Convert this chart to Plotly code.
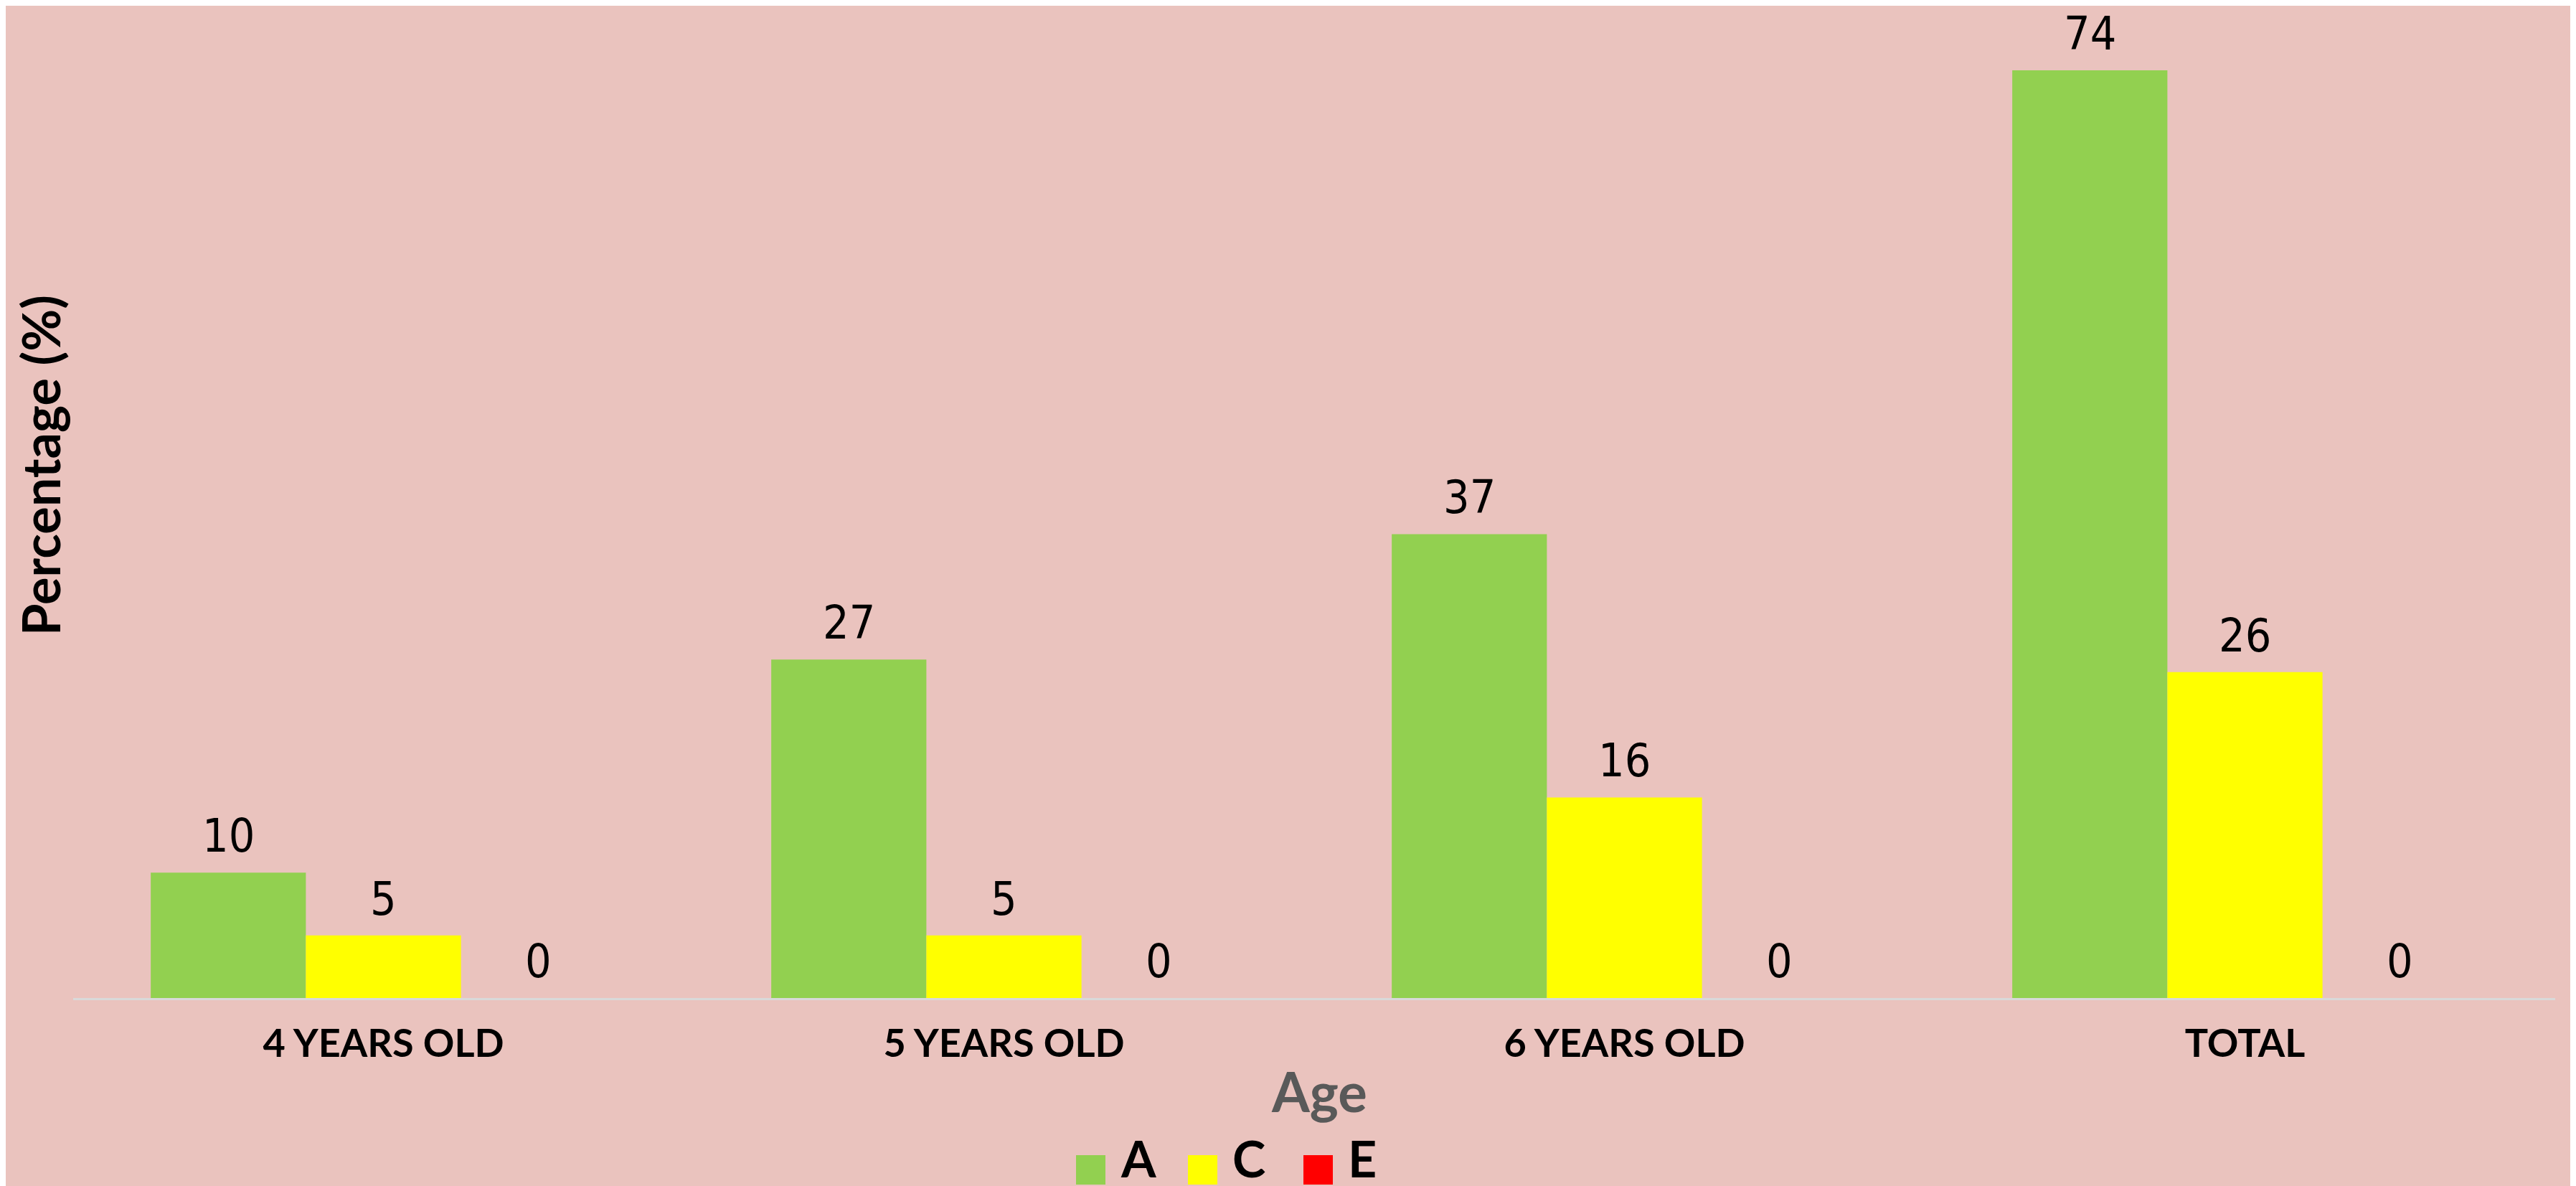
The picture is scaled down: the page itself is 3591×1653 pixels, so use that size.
import plotly.graph_objects as go

# data
categories = ["4 YEARS OLD", "5 YEARS OLD", "6 YEARS OLD", "TOTAL"]
series_names = ["A", "C", "E"]
a_values = [10, 27, 37, 74]
c_values = [5, 5, 16, 26]
e_values = [0, 0, 0, 0]
series_colors = ["#92D050", "#FFFF00", "#FF0000"]

W, H = 3591, 1653
L, R, T, B = 94, 37, 20, 270
PLOT_W = W - L - R
PLOT_H = H - T - B
BG = "#EAC3BE"
BARGAP = 0.25
BAR_PX = PLOT_W / len(categories) * (1 - BARGAP) / len(series_names)


def px_x(px):
    return (px - L) / PLOT_W


def px_y(py):
    return (H - B - py) / PLOT_H


fig = go.Figure()
for i, (name, vals, color) in enumerate(zip(series_names, [a_values, c_values, e_values], series_colors)):
    fig.add_trace(go.Bar(
        x=categories, y=vals, name=name,
        marker=dict(color=color, line=dict(width=0)),
        showlegend=False,
    ))
    # value labels sit a little above each bar
    for cat, v in zip(categories, vals):
        fig.add_annotation(
            x=cat, y=v, text=str(v), showarrow=False,
            xshift=(i - 1) * BAR_PX, yshift=12, yanchor="bottom",
            font=dict(family="DejaVu Sans Condensed, DejaVu Sans", size=64, color="black"),
        )

fig.update_layout(
    width=W, height=H,
    barmode="group", bargap=BARGAP, bargroupgap=0,
    paper_bgcolor=BG, plot_bgcolor=BG,
    margin=dict(l=L, r=R, t=T, b=B),
)
fig.update_xaxes(
    showline=True, linecolor="#D9D9D9", linewidth=3,
    ticks="", showgrid=False,
    tickfont=dict(family="Lato", size=54, color="black", weight="bold"),
    ticklabelstandoff=14,
)
fig.update_yaxes(visible=False, range=[0, 78], showgrid=False, zeroline=False)

# y axis title
fig.add_annotation(
    text="Percentage (%)", textangle=-90,
    xref="paper", yref="paper", x=px_x(48), y=px_y(641),
    xanchor="center", yanchor="middle", showarrow=False,
    font=dict(family="Lato", size=72, color="black", weight="bold"),
)

# legend title
fig.add_annotation(
    text="Age", xref="paper", yref="paper", x=px_x(1831), y=px_y(1512),
    xanchor="center", yanchor="middle", showarrow=False,
    font=dict(family="Lato", size=76, color="#595959", weight="bold"),
)

# legend entries
legend_left = [1492, 1648, 1809]
for name, color, left in zip(series_names, series_colors, legend_left):
    fig.add_shape(
        type="rect", xref="paper", yref="paper",
        x0=px_x(left), x1=px_x(left + 41), y0=px_y(1643), y1=px_y(1602),
        fillcolor=color, line=dict(width=0),
    )
    fig.add_annotation(
        text=name, xref="paper", yref="paper", x=px_x(left + 60), y=px_y(1606),
        xanchor="left", yanchor="middle", showarrow=False,
        font=dict(family="Lato", size=70, color="black", weight="bold"),
    )

fig.write_html("out.html")
